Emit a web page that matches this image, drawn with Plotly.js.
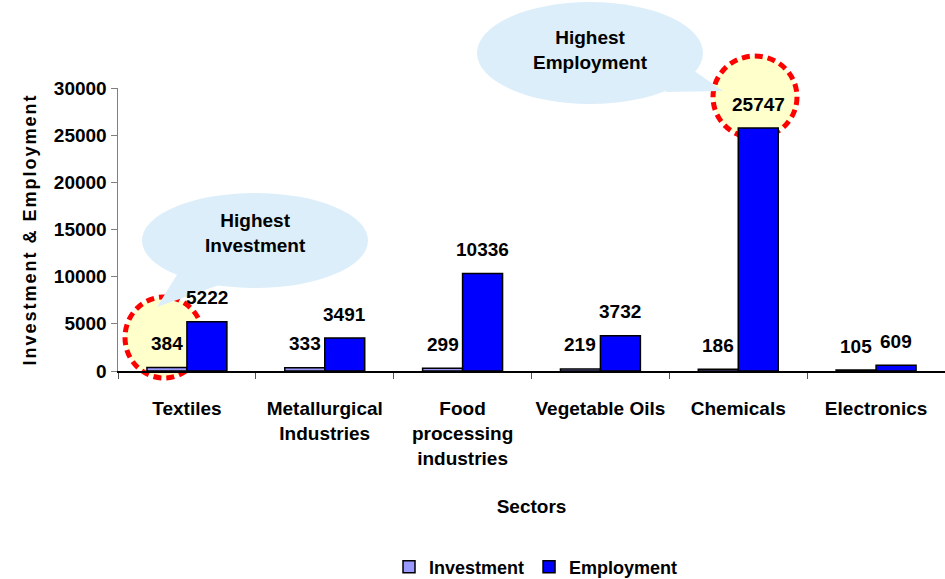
<!DOCTYPE html>
<html>
<head>
<meta charset="utf-8">
<script src="https://cdn.plot.ly/plotly-3.0.1.min.js"></script>
<style>
  html, body { margin: 0; padding: 0; background: #ffffff; }
  #chart { width: 945px; height: 579px; }
</style>
</head>
<body>
<div id="chart"></div>
<script>
// ---- Data ----
const categories = ['Textiles', 'Metallurgical<br>Industries', 'Food<br>processing<br>industries', 'Vegetable Oils', 'Chemicals', 'Electronics'];
const investment = [384, 333, 299, 219, 186, 105];
const employment = [5222, 3491, 10336, 3732, 25747, 609];
const seriesNames = ['Investment', 'Employment'];
const calloutTexts = ['Highest<br>Investment', 'Highest<br>Employment'];

// ---- Geometry helpers (plot area in pixels) ----
const W = 945, H = 579;
const L = 118, R = 945, T = 88, B = 371;
const px = x => (x - L) / (R - L);
const py = y => (B - y) / (B - T);

const FONT = 'Liberation Sans, Arial, Helvetica, sans-serif';
const bold = (size, color) => ({ family: FONT, size: size, color: color || '#000000', weight: 700 });

const traces = [
  {
    type: 'bar', name: seriesNames[0], x: categories, y: investment,
    marker: { color: '#9999FF', line: { color: '#000000', width: 1.5 } },
    hoverinfo: 'x+y'
  },
  {
    type: 'bar', name: seriesNames[1], x: categories, y: employment,
    marker: { color: '#0000FF', line: { color: '#000000', width: 1.5 } },
    hoverinfo: 'x+y'
  }
];

// data labels
const annotations = [];
categories.forEach((c, i) => {
  annotations.push({ x: c, y: investment[i], xref: 'x', yref: 'y', text: String(investment[i]),
    showarrow: false, xanchor: 'center', yanchor: 'middle', xshift: -20, yshift: 24, font: bold(19) });
  annotations.push({ x: c, y: employment[i], xref: 'x', yref: 'y', text: String(employment[i]),
    showarrow: false, xanchor: 'center', yanchor: 'middle', xshift: 20, yshift: 24, font: bold(19) });
});
// callout texts
annotations.push({ x: px(255), y: py(233), xref: 'paper', yref: 'paper', text: calloutTexts[0],
  showarrow: false, xanchor: 'center', yanchor: 'middle', font: bold(19) });
annotations.push({ x: px(590), y: py(50), xref: 'paper', yref: 'paper', text: calloutTexts[1],
  showarrow: false, xanchor: 'center', yanchor: 'middle', font: bold(19) });

const calloutFill = '#DCEEFA';
const ringLine = { color: '#FF0000', width: 5, dash: '8px,5px' };
const shapes = [
  // highlight rings (behind bars)
  { type: 'circle', xref: 'paper', yref: 'paper', layer: 'below',
    x0: px(125), x1: px(203), y0: py(378), y1: py(297),
    fillcolor: '#FFFFCC', line: ringLine },
  { type: 'circle', xref: 'paper', yref: 'paper', layer: 'below',
    x0: px(713), x1: px(797), y0: py(138), y1: py(56),
    fillcolor: '#FFFFCC', line: ringLine },
  // callout 1: Highest Investment
  { type: 'circle', xref: 'paper', yref: 'paper', layer: 'above',
    x0: px(142), x1: px(368), y0: py(288), y1: py(193),
    fillcolor: calloutFill, line: { width: 0 } },
  { type: 'path', xref: 'paper', yref: 'paper', layer: 'above',
    path: `M ${px(180)} ${py(270)} L ${px(157)} ${py(307)} L ${px(222)} ${py(284)} Z`,
    fillcolor: calloutFill, line: { width: 0 } },
  // callout 2: Highest Employment
  { type: 'circle', xref: 'paper', yref: 'paper', layer: 'above',
    x0: px(477), x1: px(703), y0: py(104), y1: py(2),
    fillcolor: calloutFill, line: { width: 0 } },
  { type: 'path', xref: 'paper', yref: 'paper', layer: 'above',
    path: `M ${px(690)} ${py(68)} L ${px(723)} ${py(91)} L ${px(665)} ${py(92)} Z`,
    fillcolor: calloutFill, line: { width: 0 } }
];

const layout = {
  width: W, height: H,
  margin: { l: L, r: W - R, t: T, b: H - B, pad: 0, autoexpand: false },
  paper_bgcolor: '#ffffff', plot_bgcolor: '#ffffff',
  font: bold(19),
  barmode: 'group', bargap: 0.42, bargroupgap: 0,
  showlegend: true,
  legend: { orientation: 'h', xref: 'container', yref: 'container',
    x: 536 / W, xanchor: 'center', y: (H - 567) / H, yanchor: 'middle',
    font: bold(18), itemwidth: 30,
    tracegroupgap: 0, bgcolor: 'rgba(0,0,0,0)' },
  xaxis: {
    type: 'category', showline: true, linecolor: '#000000', linewidth: 1.5,
    ticks: 'outside', tickson: 'boundaries', ticklen: 6, tickcolor: '#555555', tickwidth: 1,
    tickangle: 0, ticklabelstandoff: 20, tickfont: bold(19), showgrid: false, zeroline: false, automargin: false,
    title: { text: 'Sectors', font: bold(19), standoff: 32 }
  },
  yaxis: {
    range: [0, 30000], dtick: 5000, tickformat: 'd', showline: true, linecolor: '#808080', linewidth: 1.5,
    ticks: 'outside', ticklen: 6, tickcolor: '#808080', tickwidth: 1,
    tickfont: bold(19), showgrid: false, zeroline: false, automargin: false,
    title: { text: 'Investment & Employment', font: bold(18), standoff: 12 }
  },
  annotations: annotations,
  shapes: shapes
};

Plotly.newPlot('chart', traces, layout, { displayModeBar: false, staticPlot: true }).then(gd => {
  const t = gd.querySelector('.ytitle');
  if (t) t.style.letterSpacing = '2px';
});
</script>
</body>
</html>
